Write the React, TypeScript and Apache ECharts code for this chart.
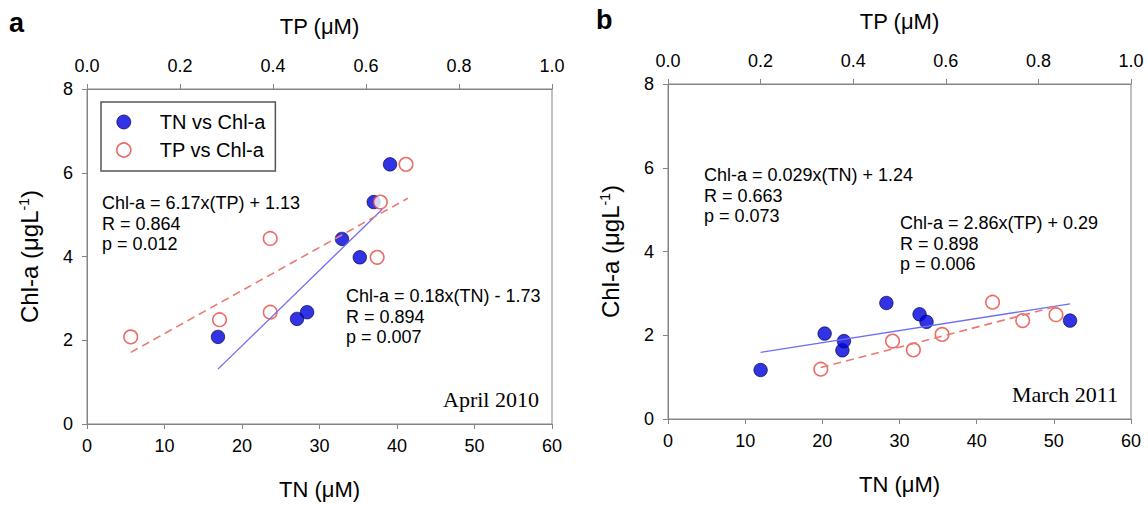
import React, { useEffect, useRef } from "react";
import * as echarts from "echarts";

// ---- Data ----
const tnTicks = [0, 10, 20, 30, 40, 50, 60];
const tpTicks = [0.0, 0.2, 0.4, 0.6, 0.8, 1.0];
const chlTicks = [0, 2, 4, 6, 8];

// Panel a: April 2010
const tnA: number[][] = [
  [16.9, 2.08], [27.1, 2.51], [28.4, 2.67], [32.9, 4.42], [35.2, 3.98], [37.0, 5.3], [39.1, 6.2],
];
const tpA: number[][] = [
  [0.094, 2.08], [0.285, 2.49], [0.394, 2.67], [0.394, 4.43], [0.624, 3.98], [0.631, 5.3], [0.686, 6.2],
];
const tnFitA: number[][] = [[16.9, 1.31], [38.1, 5.13]];
const tpFitA: number[][] = [[0.094, 1.71], [0.69, 5.39]];

// Panel b: March 2011
const tnB: number[][] = [
  [12.0, 1.17], [20.3, 2.04], [22.6, 1.64], [22.8, 1.86], [28.3, 2.77], [32.6, 2.5], [33.5, 2.32], [52.1, 2.35],
];
const tpB: number[][] = [
  [0.33, 1.19], [0.485, 1.86], [0.53, 1.65], [0.592, 2.02], [0.701, 2.79], [0.766, 2.35], [0.838, 2.49],
];
const tnFitB: number[][] = [[12.0, 1.59], [52.1, 2.75]];
const tpFitB: number[][] = [[0.33, 1.23], [0.84, 2.69]];

const seriesNames = ["TN vs Chl-a", "TP vs Chl-a"];
const eqA1 = ["Chl-a = 6.17x(TP) + 1.13", "R = 0.864", "p = 0.012"];
const eqA2 = ["Chl-a = 0.18x(TN) - 1.73", "R = 0.894", "p = 0.007"];
const eqB1 = ["Chl-a = 0.029x(TN) + 1.24", "R = 0.663", "p = 0.073"];
const eqB2 = ["Chl-a = 2.86x(TP) + 0.29", "R = 0.898", "p = 0.006"];
const panelDates = ["April 2010", "March 2011"];
const panelLetters = ["a", "b"];

const SANS = "Liberation Sans, Arial, sans-serif";
const SERIF = "Liberation Serif, Times New Roman, serif";
const AXIS_COLOR = "#858585";
const BLUE = "#0000e0";
const RED = "#e8463e";
const INK = "#000000";

export default function App() {
  const ref = useRef<HTMLDivElement>(null);

  useEffect(() => {
    if (!ref.current) return;
    const chart = echarts.init(ref.current, undefined, { renderer: "svg" });

    const grids = [
      { left: 87, top: 89, width: 465, height: 335 },
      { left: 668, top: 84, width: 463, height: 335 },
    ];

    const tickLabel = { color: INK, fontSize: 18, fontFamily: SANS };
    const axisLine = { show: true, lineStyle: { color: AXIS_COLOR, width: 1 } };
    const axisTick = { show: true, length: 5, inside: false, lineStyle: { color: AXIS_COLOR } };
    const nameStyle = { color: INK, fontSize: 22, fontFamily: SANS };

    const xAxes: any[] = [];
    const yAxes: any[] = [];
    grids.forEach((_, gi) => {
      xAxes.push({
        type: "value",
        gridIndex: gi,
        position: "bottom",
        min: tnTicks[0],
        max: tnTicks[tnTicks.length - 1],
        interval: 10,
        name: "TN (\u03bcM)",
        nameLocation: "middle",
        nameGap: 54,
        nameTextStyle: nameStyle,
        axisLine,
        axisTick,
        axisLabel: { ...tickLabel, margin: 13 },
        splitLine: { show: false },
      });
      xAxes.push({
        type: "value",
        gridIndex: gi,
        position: "top",
        min: tpTicks[0],
        max: tpTicks[tpTicks.length - 1],
        interval: 0.2,
        name: "TP (\u03bcM)",
        nameLocation: "middle",
        nameGap: 52,
        nameTextStyle: nameStyle,
        axisLine,
        axisTick,
        axisLabel: { ...tickLabel, margin: 14, formatter: (v: number) => v.toFixed(1) },
        splitLine: { show: false },
      });
      yAxes.push({
        type: "value",
        gridIndex: gi,
        min: chlTicks[0],
        max: chlTicks[chlTicks.length - 1],
        interval: 2,
        name: "Chl-a (\u03bcgL{s|-1})",
        nameLocation: "middle",
        nameGap: 46,
        nameRotate: 90,
        nameTextStyle: {
          ...nameStyle,
          fontSize: 24,
          rich: { s: { fontSize: 14, fontFamily: SANS, color: INK, verticalAlign: "top" } },
        },
        axisLine,
        axisTick,
        axisLabel: { ...tickLabel, margin: 14 },
        splitLine: { show: false },
      });
    });

    const blueStyle = { color: BLUE, borderColor: "#00002a", borderWidth: 0.8 };
    const redStyle = { color: "#ffffff", borderColor: RED, borderWidth: 1.6 };

    const mkScatter = (name: string, data: number[][], xi: number, yi: number, style: any, z: number) => ({
      name,
      type: "scatter",
      xAxisIndex: xi,
      yAxisIndex: yi,
      data,
      symbol: "circle",
      symbolSize: 13.5,
      itemStyle: style,
      z,
    });
    const mkLine = (data: number[][], xi: number, yi: number, color: string, dashed: boolean) => ({
      name: dashed ? "TP fit" : "TN fit",
      type: "line",
      xAxisIndex: xi,
      yAxisIndex: yi,
      data,
      symbol: "none",
      showSymbol: false,
      silent: true,
      lineStyle: { color, width: dashed ? 1.6 : 1.3, type: dashed ? [8, 5] : "solid" },
      z: 5,
    });

    const txt = (lines: string[], x: number, y: number) => ({
      type: "text",
      x,
      y,
      style: {
        text: lines.join("\n"),
        fontSize: 18,
        lineHeight: 20.5,
        fontFamily: SANS,
        fill: INK,
        verticalAlign: "top",
        align: "left",
      },
    });

    chart.setOption({
      animation: false,
      backgroundColor: "#ffffff",
      grid: grids.map((g) => ({ ...g, show: true, borderColor: AXIS_COLOR, borderWidth: 1, backgroundColor: "transparent" })),
      xAxis: xAxes,
      yAxis: yAxes,
      legend: {
        data: [
          { name: seriesNames[0], itemStyle: blueStyle },
          { name: seriesNames[1], itemStyle: redStyle },
        ],
        orient: "vertical",
        left: 101,
        top: 102,
        padding: [10, 10, 11, 15],
        itemGap: 8,
        itemWidth: 14,
        itemHeight: 14,
        icon: "circle",
        backgroundColor: "#ffffff",
        borderColor: "#555555",
        borderWidth: 1.5,
        borderRadius: 0,
        textStyle: { fontSize: 20, fontFamily: SANS, color: INK, padding: [0, 0, 0, 24], lineHeight: 20 },
      },
      series: [
        mkScatter(seriesNames[0], tnA, 0, 0, blueStyle, 3),
        mkScatter(seriesNames[1], tpA, 1, 0, redStyle, 4),
        mkLine(tnFitA, 0, 0, "#6d6df2", false),
        mkLine(tpFitA, 1, 0, "#ea7b74", true),
        mkScatter(seriesNames[0], tnB, 2, 1, blueStyle, 3),
        mkScatter(seriesNames[1], tpB, 3, 1, redStyle, 4),
        mkLine(tnFitB, 2, 1, "#6d6df2", false),
        mkLine(tpFitB, 3, 1, "#ea7b74", true),
      ],
      graphic: [
        txt(eqA1, 102, 193),
        txt(eqA2, 346, 286),
        txt(eqB1, 704, 165),
        txt(eqB2, 900, 213),
        {
          type: "text",
          x: 539,
          y: 399,
          style: { text: panelDates[0], fontSize: 22, fontFamily: SERIF, fill: INK, align: "right", verticalAlign: "middle" },
        },
        {
          type: "text",
          x: 1118,
          y: 394,
          style: { text: panelDates[1], fontSize: 22, fontFamily: SERIF, fill: INK, align: "right", verticalAlign: "middle" },
        },
        {
          type: "text",
          x: 9,
          y: 23,
          style: { text: panelLetters[0], fontSize: 27, fontWeight: "bold", fontFamily: SANS, fill: INK, verticalAlign: "middle" },
        },
        {
          type: "text",
          x: 596,
          y: 20,
          style: { text: panelLetters[1], fontSize: 27, fontWeight: "bold", fontFamily: SANS, fill: INK, verticalAlign: "middle" },
        },
      ],
    });

    return () => chart.dispose();
  }, []);

  return <div ref={ref} style={{ width: 1148, height: 507, position: "absolute", left: 0, top: 0 }} />;
}
